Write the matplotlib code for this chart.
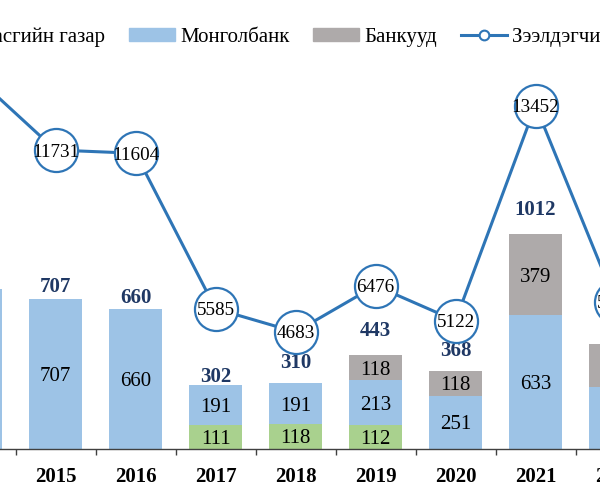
import numpy as np
import matplotlib
matplotlib.use("Agg")
import matplotlib.pyplot as plt
from matplotlib.patches import Patch
from matplotlib.lines import Line2D

plt.rcParams['font.family'] = ['Liberation Serif', 'DejaVu Serif']

# Data (2014 and 2022 are partly cut off in the source picture)
years = ['2014', '2015', '2016', '2017', '2018', '2019', '2020', '2021', '2022']
gov = [0, 0, 0, 111, 118, 112, 0, 0, 0]          # Засгийн газар
mongolbank = [755, 707, 660, 191, 191, 213, 251, 633, 292]
banks = [0, 0, 0, 0, 0, 118, 118, 379, 203]
totals = [755, 707, 660, 302, 310, 443, 368, 1012, 495]
borrowers = [14580, 11731, 11604, 5585, 4683, 6476, 5122, 13452, 5850]
# how far above the bar top the bold total sits (data units)
total_offsets = [70, 70, 62, 50, 108, 127, 104, 127, 127]

c_gov = '#A9D18E'
c_mb = '#9DC3E6'
c_bank = '#AEAAAA'
c_line = '#2E75B6'
c_total = '#1F3864'

fig = plt.figure(figsize=(6, 5), dpi=100)
# the visible picture is a crop of a wider chart: axes run past the edges
ax = fig.add_axes([-64.5 / 600, 51 / 500, 720 / 600, 449 / 500])

x = np.arange(len(years))
w = 0.66
gov = np.array(gov)
mongolbank = np.array(mongolbank)
banks = np.array(banks)

ax.bar(x, gov, w, color=c_gov, zorder=2)
ax.bar(x, mongolbank, w, bottom=gov, color=c_mb, zorder=2)
ax.bar(x, banks, w, bottom=gov + mongolbank, color=c_bank, zorder=2)

for i in range(len(years)):
    for val, bot in [(gov[i], 0), (mongolbank[i], gov[i]), (banks[i], gov[i] + mongolbank[i])]:
        if val > 0:
            ax.text(x[i], bot + val / 2, str(val), ha='center', va='center_baseline',
                    fontsize=15, color='black', zorder=3)
    ax.text(x[i], totals[i] + total_offsets[i], str(totals[i]), ha='center',
            va='center_baseline', fontsize=15, fontweight='bold', color=c_total, zorder=3)

ax.set_xlim(-0.5, len(years) - 0.5)
ax.set_ylim(0, 2118)
ax.set_xticks(x)
ax.set_xticklabels(years, fontsize=15, fontweight='bold')
ax.set_xticks(x[:-1] + 0.5, minor=True)
ax.tick_params(axis='x', which='major', length=0, pad=13)
ax.tick_params(axis='x', which='minor', length=6 * 0.72, width=1, direction='out', color='#404040')
ax.set_yticks([])
for s in ['top', 'left', 'right']:
    ax.spines[s].set_visible(False)
ax.spines['bottom'].set_color('#404040')
ax.spines['bottom'].set_linewidth(1)

ax2 = ax.twinx()
ax2.set_ylim(151, 17541)
ax2.plot(x, borrowers, color=c_line, lw=2.2, marker='o', ms=31,
         mfc='white', mec=c_line, mew=1.6, zorder=4)
for i in range(len(years)):
    ax2.text(x[i], borrowers[i], str(borrowers[i]), ha='center', va='center_baseline',
             fontsize=13.8, color='black', zorder=5)
ax2.set_yticks([])
for s in ax2.spines.values():
    s.set_visible(False)

handles = [Patch(color=c_gov, label='Засгийн газар'),
           Patch(color=c_mb, label='Монголбанк'),
           Patch(color=c_bank, label='Банкууд'),
           Line2D([], [], color=c_line, lw=2.2, marker='o', ms=7, mfc='white',
                  mec=c_line, mew=1.5, label='Зээлдэгчийн тоо')]
leg = fig.legend(handles=handles, loc='center left', bbox_to_anchor=(-64 / 600, 1 - 37 / 500),
                 ncol=4, frameon=False, fontsize=15, handlelength=2.2, handleheight=0.55,
                 handletextpad=0.25, columnspacing=1.15, borderpad=0, borderaxespad=0)

# nudge the legend so "Монголбанк" starts where it does in the source (x ~180 px)
fig.canvas.draw()
bb = leg.get_texts()[1].get_window_extent()
dx = 180 - bb.x0
leg.set_bbox_to_anchor(((-64 + dx) / 600, 1 - 37 / 500), transform=fig.transFigure)

fig.savefig('out.png', dpi=100)
